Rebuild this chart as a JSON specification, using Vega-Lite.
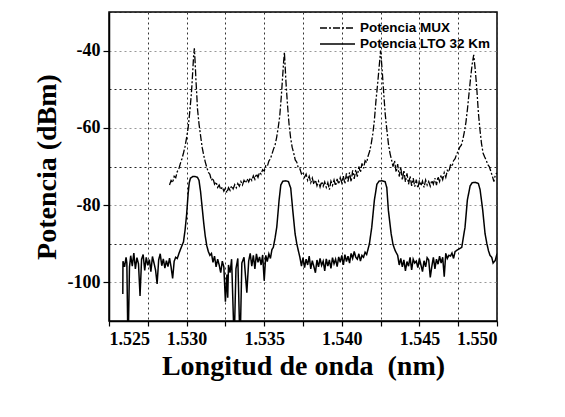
{
  "$schema": "https://vega.github.io/schema/vega-lite/v6.json",
  "width": 388,
  "height": 309,
  "autosize": {"type": "none"},
  "padding": {"left": 109, "top": 12, "right": 68, "bottom": 96},
  "background": "white",
  "config": {
    "view": {"stroke": "black", "strokeWidth": 1.5},
    "axis": {
      "domainColor": "black", "domainWidth": 1.5,
      "tickColor": "black", "tickWidth": 1.2,
      "labelFont": "Liberation Serif", "labelFontWeight": "bold", "labelFontSize": 18, "labelColor": "black",
      "titleFont": "Liberation Serif", "titleFontWeight": "bold", "titleFontSize": 28, "titleColor": "black"
    }
  },
  "datasets": {
    "lto": [
      {"w":1.52589,"p":-103},{"w":1.52590,"p":-94.5},{"w":1.52600,"p":-96},{"w":1.52610,"p":-93.5},{"w":1.52615,"p":-95},
      {"w":1.52620,"p":-110},{"w":1.52626,"p":-110},{"w":1.52632,"p":-96},{"w":1.5264,"p":-93.1},{"w":1.5265,"p":-95.8},
      {"w":1.5266,"p":-92.4},{"w":1.5267,"p":-96.5},{"w":1.5268,"p":-93.6},{"w":1.5269,"p":-95.2},{"w":1.5270,"p":-103.5},
      {"w":1.5271,"p":-94.0},{"w":1.5272,"p":-92.8},{"w":1.5273,"p":-96.9},{"w":1.5274,"p":-93.5},{"w":1.5275,"p":-95.6},
      {"w":1.5276,"p":-94.1},{"w":1.5277,"p":-97.2},{"w":1.5278,"p":-93.3},{"w":1.5279,"p":-95.0},{"w":1.5280,"p":-96.8},
      {"w":1.5281,"p":-100.4},{"w":1.5282,"p":-94.2},{"w":1.5283,"p":-92.6},{"w":1.5284,"p":-95.7},{"w":1.5285,"p":-93.9},
      {"w":1.5286,"p":-96.3},{"w":1.5287,"p":-94.4},{"w":1.5288,"p":-95.9},{"w":1.5289,"p":-93.7},{"w":1.5290,"p":-96.0},
      {"w":1.5291,"p":-99.0},{"w":1.5292,"p":-94.5},{"w":1.5293,"p":-93.5},{"w":1.5294,"p":-93.8},{"w":1.5295,"p":-92.6},
      {"w":1.5296,"p":-91.5},{"w":1.5297,"p":-90.5},{"w":1.5298,"p":-89.5},{"w":1.5299,"p":-86.5},{"w":1.5300,"p":-82.5},
      {"w":1.5301,"p":-77.0},{"w":1.53017,"p":-74.2},{"w":1.53025,"p":-73.0},{"w":1.5304,"p":-72.6},{"w":1.53055,"p":-72.6},
      {"w":1.5307,"p":-72.8},{"w":1.5308,"p":-73.6},{"w":1.5309,"p":-76.5},{"w":1.5310,"p":-80.5},{"w":1.5311,"p":-84.5},
      {"w":1.5312,"p":-88.0},{"w":1.5313,"p":-90.5},{"w":1.5314,"p":-92.0},{"w":1.5315,"p":-93.0},{"w":1.5316,"p":-92.5},
      {"w":1.5317,"p":-94.8},{"w":1.5318,"p":-93.2},{"w":1.5319,"p":-96.0},{"w":1.5320,"p":-94.0},{"w":1.5321,"p":-95.5},
      {"w":1.5322,"p":-97.5},{"w":1.5323,"p":-94.5},{"w":1.5324,"p":-96.0},{"w":1.5325,"p":-105},{"w":1.5326,"p":-98},
      {"w":1.53265,"p":-104},{"w":1.5327,"p":-95.5},{"w":1.5328,"p":-97.5},{"w":1.5329,"p":-94.0},{"w":1.53302,"p":-110},
      {"w":1.5331,"p":-110},{"w":1.53318,"p":-96.5},{"w":1.5333,"p":-93.8},{"w":1.5334,"p":-110},{"w":1.53348,"p":-110},
      {"w":1.53356,"p":-95.0},{"w":1.5337,"p":-93.5},{"w":1.53388,"p":-102.7},{"w":1.5340,"p":-94.5},{"w":1.5341,"p":-92.5},
      {"w":1.5342,"p":-95.8},{"w":1.5343,"p":-93.0},{"w":1.5344,"p":-96.5},{"w":1.5345,"p":-92.6},{"w":1.5346,"p":-94.8},
      {"w":1.5347,"p":-93.4},{"w":1.5348,"p":-95.5},{"w":1.5349,"p":-92.9},{"w":1.5350,"p":-99.6},{"w":1.5351,"p":-93.0},
      {"w":1.5352,"p":-94.6},{"w":1.5353,"p":-92.6},{"w":1.5354,"p":-93.8},{"w":1.5355,"p":-91.5},{"w":1.53559,"p":-90.9},
      {"w":1.5357,"p":-88.5},{"w":1.53581,"p":-85.7},{"w":1.53596,"p":-78.7},{"w":1.53607,"p":-74.8},{"w":1.5362,"p":-73.8},
      {"w":1.5364,"p":-73.7},{"w":1.53656,"p":-73.9},{"w":1.53671,"p":-75.6},{"w":1.53684,"p":-81.3},{"w":1.53699,"p":-87.4},
      {"w":1.5371,"p":-90.0},{"w":1.5372,"p":-91.8},{"w":1.5373,"p":-93.5},{"w":1.5374,"p":-95.8},{"w":1.5375,"p":-93.6},
      {"w":1.5376,"p":-96.2},{"w":1.5377,"p":-94.0},{"w":1.5378,"p":-95.5},{"w":1.5379,"p":-93.2},{"w":1.5380,"p":-96.5},
      {"w":1.5381,"p":-94.4},{"w":1.5382,"p":-95.9},{"w":1.5383,"p":-97.5},{"w":1.5384,"p":-94.2},{"w":1.5385,"p":-96.0},
      {"w":1.5386,"p":-93.8},{"w":1.5387,"p":-95.6},{"w":1.5388,"p":-94.5},{"w":1.5389,"p":-97.0},{"w":1.5390,"p":-93.9},
      {"w":1.5391,"p":-95.8},{"w":1.5392,"p":-94.2},{"w":1.5393,"p":-96.4},{"w":1.5394,"p":-93.6},{"w":1.5395,"p":-95.2},
      {"w":1.5396,"p":-94.0},{"w":1.5397,"p":-95.9},{"w":1.5398,"p":-93.4},{"w":1.5399,"p":-94.8},{"w":1.5400,"p":-93.0},
      {"w":1.5401,"p":-95.5},{"w":1.5402,"p":-92.8},{"w":1.5403,"p":-94.6},{"w":1.5404,"p":-93.2},{"w":1.5405,"p":-95.0},
      {"w":1.5406,"p":-92.5},{"w":1.5407,"p":-93.8},{"w":1.5408,"p":-92.0},{"w":1.5409,"p":-93.5},{"w":1.5410,"p":-94.0},
      {"w":1.5411,"p":-92.6},{"w":1.5412,"p":-94.5},{"w":1.5413,"p":-93.0},{"w":1.5414,"p":-93.5},{"w":1.5415,"p":-92.2},
      {"w":1.5416,"p":-92.8},{"w":1.54178,"p":-90.0},{"w":1.54193,"p":-85.7},{"w":1.5421,"p":-78.7},{"w":1.54226,"p":-74.6},
      {"w":1.5424,"p":-73.8},{"w":1.5426,"p":-73.7},{"w":1.54279,"p":-73.9},{"w":1.5429,"p":-75.5},{"w":1.5430,"p":-81.3},
      {"w":1.54318,"p":-87.4},{"w":1.5433,"p":-90.2},{"w":1.54344,"p":-91.8},{"w":1.5436,"p":-93.0},{"w":1.5437,"p":-95.5},
      {"w":1.5438,"p":-93.8},{"w":1.5439,"p":-96.0},{"w":1.5440,"p":-94.2},{"w":1.5441,"p":-97.0},{"w":1.5442,"p":-94.6},
      {"w":1.5443,"p":-95.8},{"w":1.5444,"p":-93.5},{"w":1.5445,"p":-96.8},{"w":1.5446,"p":-94.0},{"w":1.5447,"p":-95.0},
      {"w":1.5448,"p":-94.5},{"w":1.5449,"p":-96.2},{"w":1.5450,"p":-93.8},{"w":1.5451,"p":-95.5},{"w":1.5452,"p":-97.2},
      {"w":1.5453,"p":-94.4},{"w":1.5454,"p":-96.0},{"w":1.5455,"p":-93.6},{"w":1.5456,"p":-94.2},{"w":1.5457,"p":-98.7},
      {"w":1.5458,"p":-95.9},{"w":1.5459,"p":-93.5},{"w":1.5460,"p":-96.5},{"w":1.5461,"p":-94.0},{"w":1.5462,"p":-95.3},
      {"w":1.5463,"p":-93.2},{"w":1.5464,"p":-95.0},{"w":1.5465,"p":-93.5},{"w":1.5466,"p":-98.5},{"w":1.5467,"p":-92.5},
      {"w":1.5468,"p":-93.8},{"w":1.5469,"p":-93.0},{"w":1.5470,"p":-93.2},{"w":1.5471,"p":-92.4},{"w":1.5472,"p":-93.8},
      {"w":1.5473,"p":-92.0},{"w":1.54773,"p":-90.9},{"w":1.54794,"p":-85.7},{"w":1.54809,"p":-78.7},{"w":1.54827,"p":-75.0},
      {"w":1.5484,"p":-74.2},{"w":1.5486,"p":-74.1},{"w":1.5488,"p":-74.4},{"w":1.54891,"p":-76.0},{"w":1.54908,"p":-81.3},
      {"w":1.54923,"p":-87.4},{"w":1.54935,"p":-90.0},{"w":1.54945,"p":-91.8},{"w":1.54955,"p":-93.0},{"w":1.54966,"p":-93.5},
      {"w":1.54975,"p":-95.0},{"w":1.54988,"p":-94.4},{"w":1.5500,"p":-92.6}
    ],
    "mux": [
      {"w":1.5289,"p":-74.8},{"w":1.5290,"p":-73.6},{"w":1.5291,"p":-74.2},{"w":1.5292,"p":-72.5},{"w":1.5293,"p":-72.9},
      {"w":1.5294,"p":-71.3},{"w":1.5295,"p":-70.6},{"w":1.5296,"p":-69.2},{"w":1.5297,"p":-68.0},{"w":1.5298,"p":-66.5},
      {"w":1.5299,"p":-64.8},{"w":1.5300,"p":-62.5},{"w":1.5301,"p":-60.0},{"w":1.5302,"p":-56.0},{"w":1.5303,"p":-51.5},
      {"w":1.53035,"p":-48.5},{"w":1.5304,"p":-45.0},{"w":1.53045,"p":-41.5},{"w":1.5305,"p":-39.4},{"w":1.53055,"p":-43.0},
      {"w":1.5306,"p":-47.5},{"w":1.53065,"p":-51.0},{"w":1.5307,"p":-55.0},{"w":1.5308,"p":-59.0},{"w":1.5309,"p":-62.0},
      {"w":1.5310,"p":-65.0},{"w":1.5311,"p":-67.0},{"w":1.5312,"p":-68.8},{"w":1.5313,"p":-70.2},{"w":1.5314,"p":-71.5},
      {"w":1.5315,"p":-72.0},{"w":1.5316,"p":-73.6},{"w":1.5317,"p":-73.0},{"w":1.5318,"p":-74.6},{"w":1.5319,"p":-74.0},
      {"w":1.5320,"p":-75.4},{"w":1.5321,"p":-74.8},{"w":1.5322,"p":-76.0},{"w":1.5323,"p":-75.3},{"w":1.5324,"p":-76.4},
      {"w":1.5325,"p":-75.6},{"w":1.5326,"p":-76.8},{"w":1.5327,"p":-75.5},{"w":1.5328,"p":-76.2},{"w":1.5329,"p":-75.0},
      {"w":1.5330,"p":-75.8},{"w":1.5331,"p":-74.7},{"w":1.5332,"p":-75.5},{"w":1.5333,"p":-74.4},{"w":1.5334,"p":-75.1},
      {"w":1.5335,"p":-73.9},{"w":1.5336,"p":-74.8},{"w":1.5337,"p":-73.6},{"w":1.5338,"p":-74.3},{"w":1.5339,"p":-73.2},
      {"w":1.5340,"p":-74.0},{"w":1.5341,"p":-72.9},{"w":1.5342,"p":-73.6},{"w":1.5343,"p":-72.4},{"w":1.5344,"p":-73.3},
      {"w":1.5345,"p":-71.9},{"w":1.5346,"p":-72.8},{"w":1.5347,"p":-71.5},{"w":1.5348,"p":-72.0},{"w":1.5349,"p":-70.8},
      {"w":1.5350,"p":-71.2},{"w":1.5351,"p":-69.8},{"w":1.5352,"p":-70.0},{"w":1.5353,"p":-68.6},{"w":1.5354,"p":-68.0},
      {"w":1.5355,"p":-66.8},{"w":1.5356,"p":-65.5},{"w":1.5357,"p":-64.5},{"w":1.5358,"p":-62.5},{"w":1.5359,"p":-60.0},
      {"w":1.5360,"p":-57.0},{"w":1.5361,"p":-52.0},{"w":1.5362,"p":-46.0},{"w":1.53625,"p":-43.0},{"w":1.5363,"p":-40.4},
      {"w":1.53635,"p":-44.0},{"w":1.5364,"p":-48.0},{"w":1.5365,"p":-54.0},{"w":1.5366,"p":-59.0},{"w":1.5367,"p":-62.5},
      {"w":1.5368,"p":-65.0},{"w":1.5369,"p":-66.5},{"w":1.5370,"p":-68.3},{"w":1.5371,"p":-68.9},{"w":1.5372,"p":-70.4},
      {"w":1.5373,"p":-70.6},{"w":1.5374,"p":-71.9},{"w":1.5375,"p":-71.4},{"w":1.5376,"p":-72.8},{"w":1.5377,"p":-72.0},
      {"w":1.5378,"p":-73.6},{"w":1.5379,"p":-72.5},{"w":1.5380,"p":-74.2},{"w":1.5381,"p":-73.0},{"w":1.5382,"p":-74.6},
      {"w":1.5383,"p":-73.5},{"w":1.5384,"p":-75.0},{"w":1.5385,"p":-73.8},{"w":1.5386,"p":-75.3},{"w":1.5387,"p":-73.9},
      {"w":1.5388,"p":-75.1},{"w":1.5389,"p":-74.0},{"w":1.5390,"p":-75.4},{"w":1.5391,"p":-74.2},{"w":1.5392,"p":-76.0},
      {"w":1.5393,"p":-73.8},{"w":1.5394,"p":-74.9},{"w":1.5395,"p":-73.5},{"w":1.5396,"p":-75.0},{"w":1.5397,"p":-73.2},
      {"w":1.5398,"p":-74.6},{"w":1.5399,"p":-72.9},{"w":1.5400,"p":-74.2},{"w":1.5401,"p":-72.5},{"w":1.5402,"p":-74.5},
      {"w":1.5403,"p":-71.8},{"w":1.5404,"p":-73.9},{"w":1.5405,"p":-71.5},{"w":1.5406,"p":-74.0},{"w":1.5407,"p":-71.0},
      {"w":1.5408,"p":-73.2},{"w":1.5409,"p":-70.8},{"w":1.5410,"p":-72.6},{"w":1.5411,"p":-70.0},{"w":1.5412,"p":-71.5},
      {"w":1.5413,"p":-69.2},{"w":1.5414,"p":-70.5},{"w":1.5415,"p":-68.5},{"w":1.5416,"p":-69.0},{"w":1.5417,"p":-67.2},
      {"w":1.5418,"p":-66.0},{"w":1.5419,"p":-64.0},{"w":1.5420,"p":-61.5},{"w":1.5421,"p":-58.0},{"w":1.5422,"p":-53.0},
      {"w":1.5423,"p":-49.0},{"w":1.5424,"p":-44.5},{"w":1.5425,"p":-40.0},{"w":1.5426,"p":-45.0},{"w":1.5427,"p":-51.0},
      {"w":1.5428,"p":-56.5},{"w":1.5429,"p":-60.4},{"w":1.5430,"p":-64.0},{"w":1.5431,"p":-66.5},{"w":1.5432,"p":-68.2},
      {"w":1.5433,"p":-70.0},{"w":1.5434,"p":-68.5},{"w":1.5435,"p":-71.5},{"w":1.5436,"p":-69.4},{"w":1.5437,"p":-72.6},
      {"w":1.5438,"p":-70.2},{"w":1.5439,"p":-73.5},{"w":1.5440,"p":-71.0},{"w":1.5441,"p":-74.0},{"w":1.5442,"p":-71.8},
      {"w":1.5443,"p":-74.6},{"w":1.5444,"p":-72.5},{"w":1.5445,"p":-75.0},{"w":1.5446,"p":-73.0},{"w":1.5447,"p":-75.2},
      {"w":1.5448,"p":-73.4},{"w":1.5449,"p":-75.6},{"w":1.5450,"p":-73.6},{"w":1.5451,"p":-75.0},{"w":1.5452,"p":-73.8},
      {"w":1.5453,"p":-75.4},{"w":1.5454,"p":-73.5},{"w":1.5455,"p":-74.8},{"w":1.5456,"p":-73.9},{"w":1.5457,"p":-75.1},
      {"w":1.5458,"p":-73.6},{"w":1.5459,"p":-74.6},{"w":1.5460,"p":-73.0},{"w":1.5461,"p":-74.8},{"w":1.5462,"p":-72.6},
      {"w":1.5463,"p":-73.9},{"w":1.5464,"p":-72.2},{"w":1.5465,"p":-73.4},{"w":1.5466,"p":-71.6},{"w":1.5467,"p":-72.8},
      {"w":1.5468,"p":-71.0},{"w":1.5469,"p":-71.4},{"w":1.5470,"p":-69.6},{"w":1.5471,"p":-70.0},{"w":1.5472,"p":-68.5},
      {"w":1.5473,"p":-68.0},{"w":1.5474,"p":-66.8},{"w":1.5475,"p":-66.0},{"w":1.5476,"p":-65.0},{"w":1.5477,"p":-64.5},
      {"w":1.5478,"p":-63.0},{"w":1.5479,"p":-61.0},{"w":1.5480,"p":-58.5},{"w":1.5481,"p":-55.0},{"w":1.5482,"p":-51.0},
      {"w":1.5483,"p":-47.0},{"w":1.5484,"p":-43.5},{"w":1.5485,"p":-41.1},{"w":1.5486,"p":-45.0},{"w":1.5487,"p":-50.0},
      {"w":1.5488,"p":-56.0},{"w":1.5489,"p":-60.4},{"w":1.5490,"p":-64.0},{"w":1.5491,"p":-66.5},{"w":1.5492,"p":-67.5},
      {"w":1.5493,"p":-68.3},{"w":1.5494,"p":-69.5},{"w":1.5495,"p":-70.0},{"w":1.5496,"p":-71.2},{"w":1.5497,"p":-72.5},
      {"w":1.5498,"p":-73.9},{"w":1.5499,"p":-72.0},{"w":1.5500,"p":-71.7}
    ]
  },
  "encoding": {
    "x": {
      "field": "w", "type": "quantitative",
      "scale": {"domain": [1.525, 1.55], "nice": false, "zero": false},
      "axis": {
        "title": "Longitud de onda\u00a0 (nm)",
        "values": [1.525, 1.5275, 1.53, 1.5325, 1.535, 1.5375, 1.54, 1.5425, 1.545, 1.5475, 1.55],
        "labelExpr": "round(datum.value * 10000) % 50 == 0 ? format(datum.value, '.3f') : ''",
        "tickSize": 5, "labelPadding": 4, "titlePadding": 4,
        "grid": true, "gridDash": [2, 3], "gridColor": "#333", "gridWidth": 1
      }
    },
    "y": {
      "field": "p", "type": "quantitative",
      "scale": {"domain": [-110, -30], "nice": false, "zero": false},
      "axis": {
        "title": "Potencia (dBm)",
        "values": [-110, -100, -90, -80, -70, -60, -50, -40, -30],
        "labelExpr": "datum.value % 20 == 0 ? '-' + format(abs(datum.value), 'd') : ''",
        "tickSize": 6,
        "tickOpacity": {"condition": {"test": "datum.value % 20 != 0", "value": 0}, "value": 1},
        "labelPadding": 3, "titlePadding": 6,
        "grid": true, "gridDash": [2, 3], "gridWidth": 1,
        "gridColor": {"condition": {"test": "datum.value % 20 != 0", "value": "#222"}, "value": "#999"}
      }
    }
  },
  "layer": [
    {
      "data": {"name": "mux"},
      "mark": {"type": "line", "clip": true, "strokeWidth": 1.3, "interpolate": "linear"},
      "encoding": {
        "color": {"datum": "Potencia MUX", "type": "nominal",
          "scale": {"domain": ["Potencia MUX", "Potencia LTO 32 Km"], "range": ["black", "black"]},
          "legend": {
            "title": null, "orient": "none", "legendX": 210, "legendY": 8,
            "symbolType": "stroke", "symbolSize": 1225, "symbolStrokeWidth": 1.4,
            "labelFont": "Liberation Sans", "labelFontWeight": "bold", "labelFontSize": 13.5, "labelColor": "black",
            "labelOffset": 4, "rowPadding": 0, "clipHeight": 16
          }},
        "strokeDash": {"datum": "Potencia MUX", "type": "nominal",
          "scale": {"domain": ["Potencia MUX", "Potencia LTO 32 Km"], "range": [[7, 2, 2, 2], [1, 0]]}}
      }
    },
    {
      "data": {"name": "lto"},
      "mark": {"type": "line", "clip": true, "strokeWidth": 1.5, "interpolate": "linear"},
      "encoding": {
        "color": {"datum": "Potencia LTO 32 Km", "type": "nominal"},
        "strokeDash": {"datum": "Potencia LTO 32 Km", "type": "nominal"}
      }
    }
  ]
}
